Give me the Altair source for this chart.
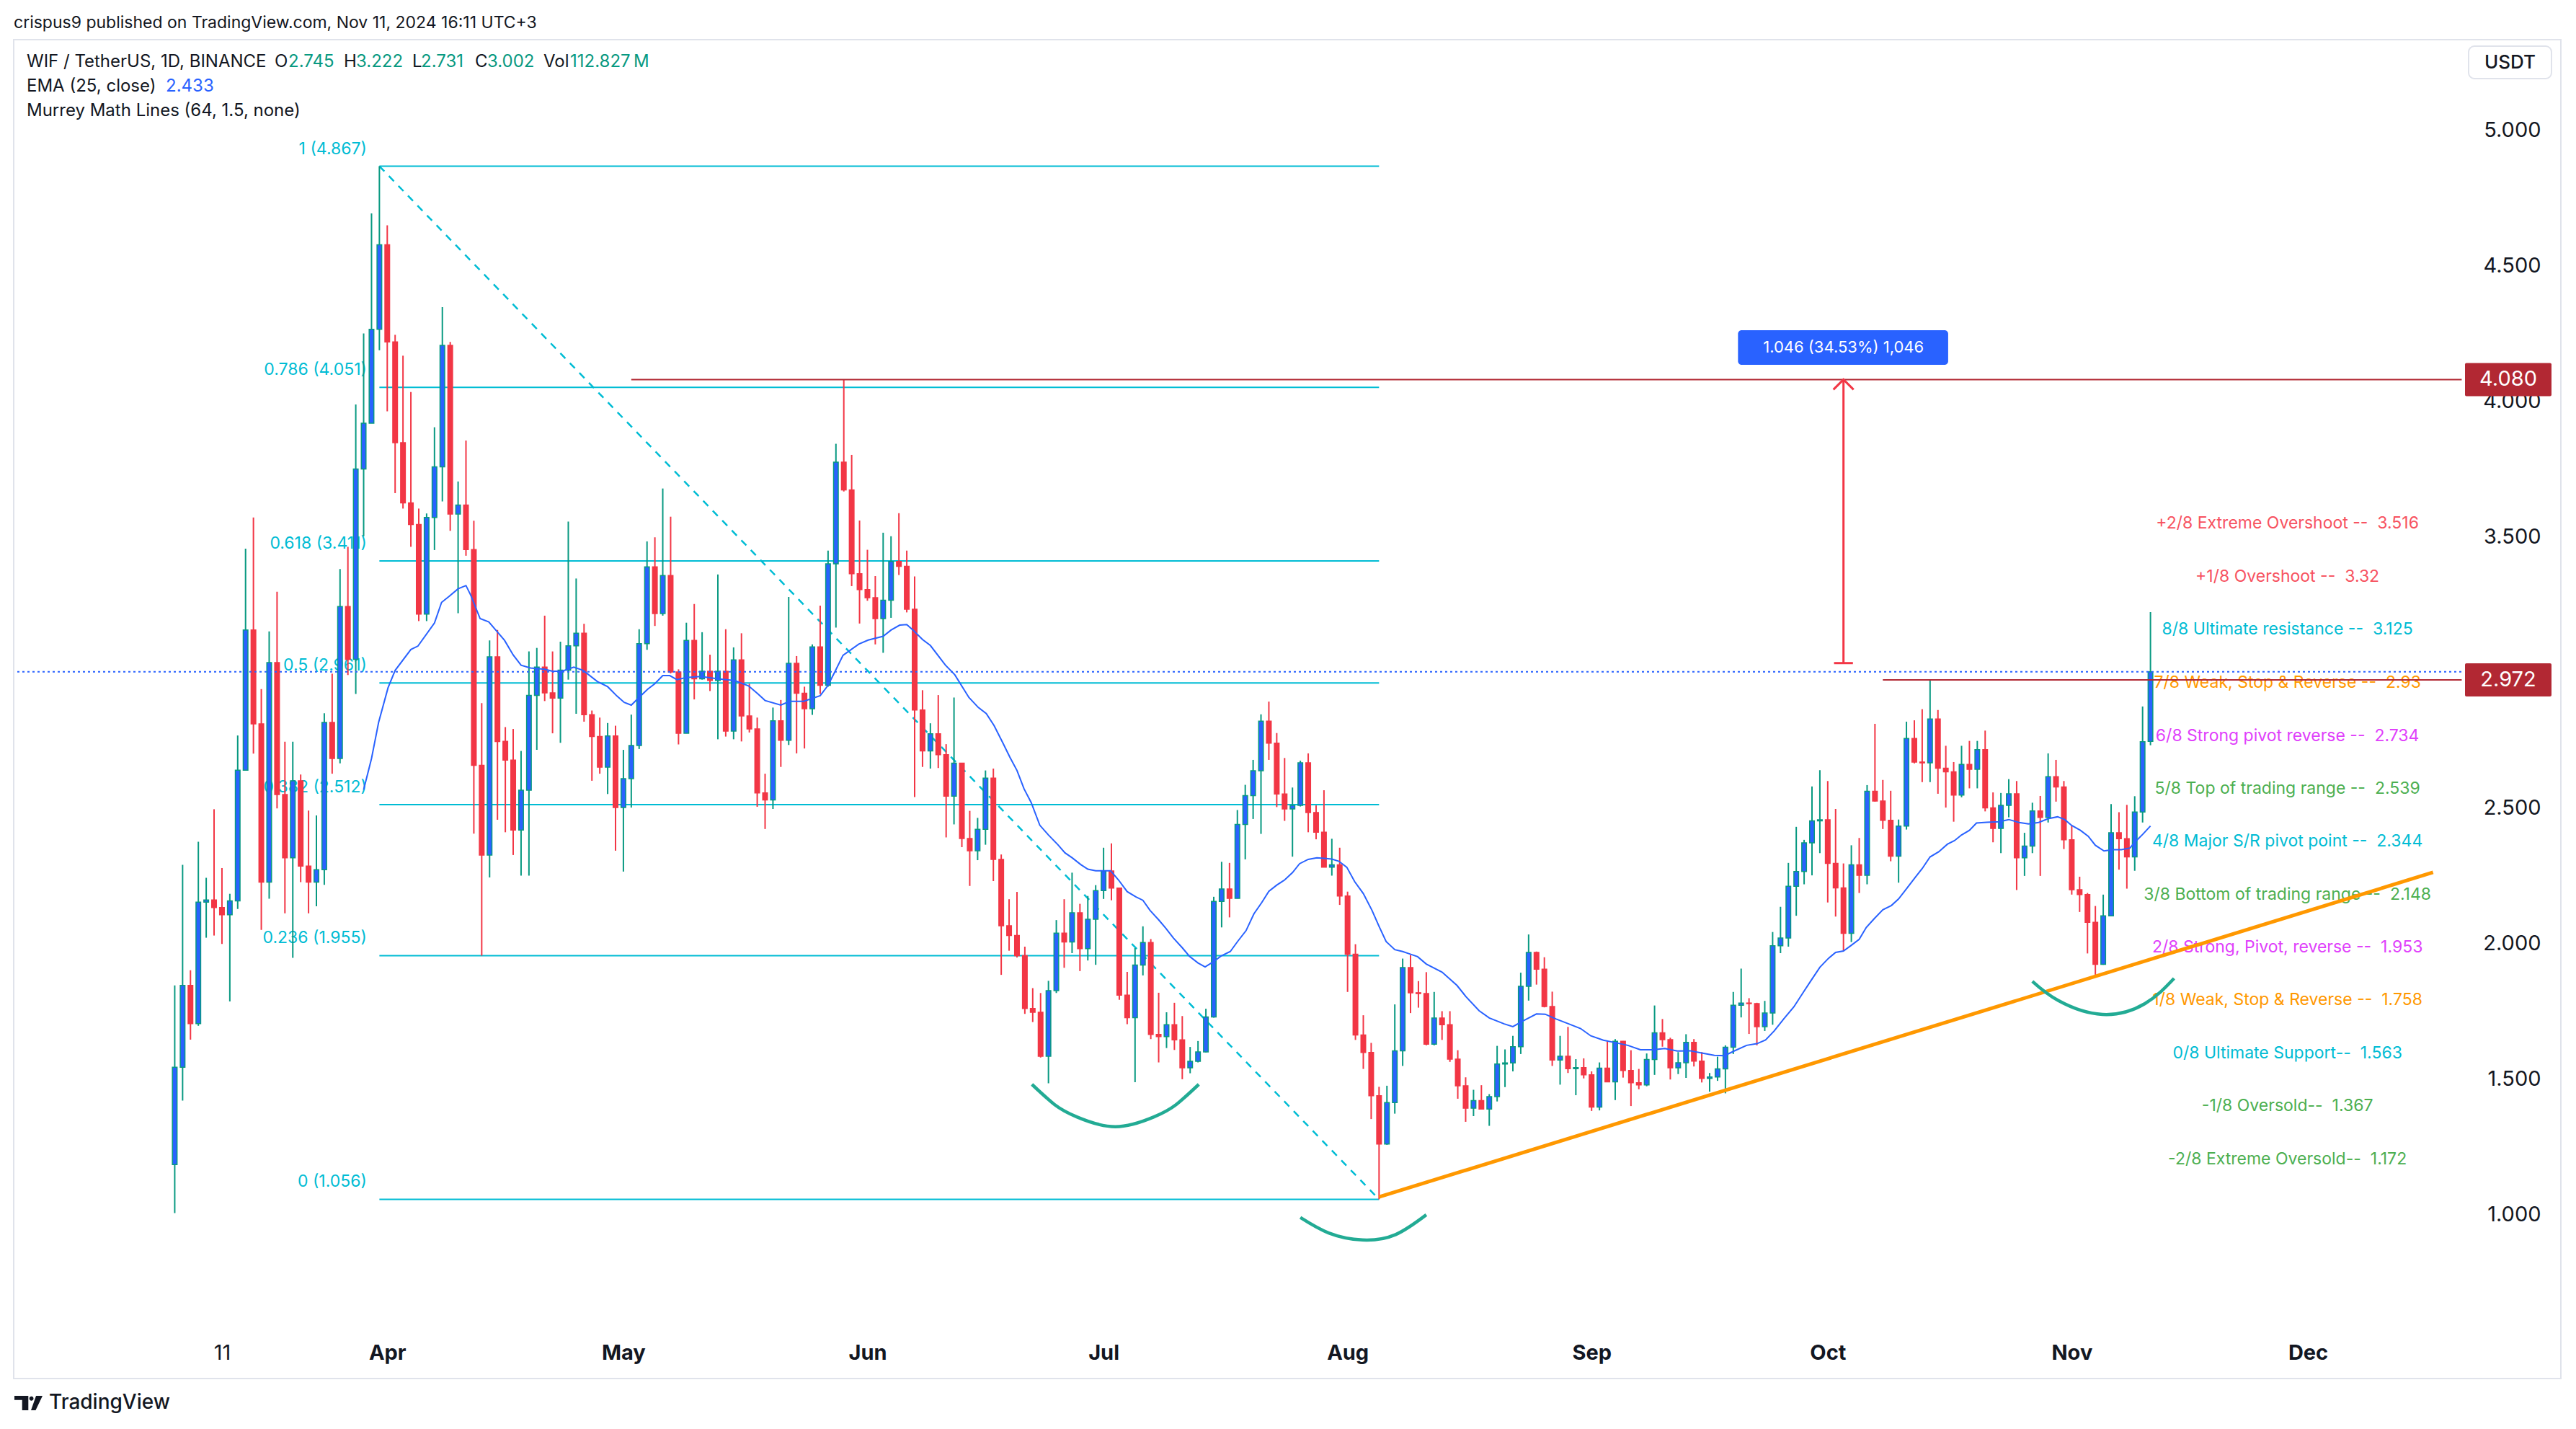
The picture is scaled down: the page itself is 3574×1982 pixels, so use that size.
import altair as alt
import pandas as pd

# ---------------- data (day 0 = 2024-03-05, daily bars) ----------------
opens = [1.184,1.543,1.845,1.704,2.152,2.160,2.132,2.106,2.157,2.639,
3.156,2.810,2.226,3.036,2.549,2.316,2.600,2.285,2.226,2.272,
2.815,2.682,3.243,3.048,3.750,3.919,4.265,4.577,4.219,3.847,
3.625,3.545,3.215,3.571,3.758,4.206,3.584,3.617,3.453,2.657,
2.326,3.057,2.745,2.676,2.418,2.565,2.915,3.019,2.924,2.905,
3.008,3.098,3.144,2.844,2.763,2.650,2.765,2.501,2.608,2.730,
3.106,3.389,3.217,3.357,3.001,2.775,3.118,2.976,3.004,2.970,
3.004,2.783,3.046,2.839,2.791,2.555,2.529,2.821,2.749,3.033,
2.923,2.866,3.094,2.952,3.400,3.775,3.673,3.364,3.305,3.275,
3.198,3.266,3.409,3.391,3.233,2.861,2.710,2.773,2.696,2.543,
2.665,2.387,2.342,2.421,2.610,2.310,2.065,2.029,1.955,1.760,
1.746,1.584,1.826,2.038,2.005,2.113,1.981,2.089,2.195,2.267,
2.204,1.809,1.726,1.920,2.003,1.664,1.656,1.700,1.644,1.541,
1.565,1.600,1.729,2.155,2.201,2.166,2.439,2.545,2.637,2.820,
2.739,2.551,2.496,2.509,2.666,2.483,2.410,2.281,2.290,2.175,
1.960,1.662,1.598,1.438,1.260,1.413,1.604,1.911,1.818,1.815,
1.628,1.725,1.700,1.573,1.475,1.392,1.420,1.389,1.435,1.555,
1.559,1.619,1.842,1.967,1.905,1.767,1.570,1.584,1.538,1.542,
1.515,1.396,1.540,1.489,1.639,1.531,1.486,1.478,1.572,1.670,
1.645,1.541,1.560,1.635,1.566,1.502,1.507,1.537,1.617,1.772,
1.780,1.778,1.693,1.743,1.991,2.020,2.211,2.265,2.371,2.452,
2.456,2.295,2.205,2.037,2.290,2.251,2.561,2.525,2.454,2.322,
2.433,2.756,2.669,2.666,2.828,2.646,2.633,2.547,2.660,2.642,
2.715,2.500,2.424,2.509,2.552,2.316,2.359,2.489,2.465,2.615,
2.577,2.382,2.198,2.180,2.078,1.923,2.102,2.408,2.386,2.319,
2.485,2.745]

highs = [1.845,2.290,1.901,2.375,2.242,2.495,2.278,2.183,2.767,3.456,
3.571,2.938,3.151,3.297,2.744,2.744,2.623,2.490,2.472,2.849,
2.995,3.381,3.463,3.988,4.250,4.693,4.867,4.649,4.245,4.168,
4.034,3.604,3.586,3.904,4.347,4.219,3.704,3.855,3.559,2.886,
3.118,3.156,2.798,2.791,2.710,3.077,3.090,3.209,3.077,3.113,
3.556,3.346,3.179,2.859,2.833,2.813,2.803,2.714,2.844,3.159,
3.483,3.498,3.678,3.574,3.011,3.183,3.252,3.148,3.065,3.361,
3.159,3.092,3.144,2.958,2.833,2.626,2.870,2.898,3.278,3.060,
2.947,3.103,3.246,3.449,3.843,4.080,3.802,3.560,3.452,3.355,
3.515,3.502,3.587,3.449,3.354,2.934,2.812,2.916,2.735,2.907,
2.665,2.489,2.463,2.638,2.645,2.328,2.163,2.190,1.988,1.835,
1.817,1.862,2.086,2.163,2.261,2.146,2.175,2.215,2.353,2.369,
2.204,1.895,1.983,2.063,2.016,1.818,1.746,1.781,1.732,1.618,
1.640,1.759,2.172,2.301,2.297,2.492,2.585,2.677,2.845,2.892,
2.776,2.684,2.575,2.674,2.701,2.509,2.565,2.386,2.353,2.191,
1.997,1.735,1.633,1.471,1.475,1.775,1.944,1.957,1.861,1.894,
1.821,1.750,1.750,1.606,1.506,1.460,1.477,1.444,1.622,1.609,
1.659,1.892,2.033,1.970,1.949,1.822,1.659,1.692,1.573,1.576,
1.528,1.561,1.639,1.647,1.640,1.606,1.537,1.594,1.771,1.721,
1.652,1.599,1.665,1.647,1.599,1.522,1.582,1.624,1.821,1.907,
1.798,1.781,1.788,2.042,2.135,2.297,2.430,2.382,2.579,2.639,
2.599,2.496,2.295,2.362,2.389,2.584,2.810,2.603,2.563,2.457,
2.818,2.823,2.864,2.972,2.861,2.729,2.669,2.729,2.747,2.747,
2.785,2.557,2.555,2.606,2.599,2.408,2.519,2.544,2.701,2.677,
2.599,2.435,2.246,2.186,2.138,2.180,2.514,2.484,2.511,2.543,
2.874,3.222]

lows = [1.005,1.420,1.645,1.696,2.021,2.029,1.998,1.786,2.127,2.639,
2.700,2.050,2.165,2.498,2.111,1.947,2.226,2.111,2.137,2.216,
2.626,2.664,2.990,2.920,3.502,3.919,4.188,3.963,3.661,3.604,
3.463,3.189,3.189,3.451,3.630,3.522,3.218,3.430,2.405,1.955,
2.243,2.456,2.410,2.326,2.250,2.250,2.714,2.894,2.775,2.740,
2.973,2.847,2.818,2.600,2.626,2.551,2.342,2.265,2.501,2.717,
3.083,3.171,3.209,2.996,2.734,2.775,2.900,2.973,2.931,2.753,
2.763,2.753,2.745,2.778,2.504,2.422,2.496,2.651,2.732,2.701,
2.719,2.843,2.920,2.947,3.165,3.667,3.318,3.180,3.264,3.103,
3.072,3.201,3.359,3.221,2.540,2.651,2.645,2.647,2.391,2.439,
2.355,2.212,2.307,2.364,2.230,1.884,1.973,1.948,1.740,1.710,
1.579,1.484,1.817,1.910,1.964,1.898,1.937,1.921,2.164,2.159,
1.792,1.702,1.488,1.882,1.647,1.561,1.614,1.607,1.499,1.521,
1.561,1.598,1.726,2.059,2.096,2.166,2.310,2.459,2.404,2.677,
2.503,2.452,2.320,2.505,2.410,2.384,2.281,2.250,2.142,1.821,
1.644,1.537,1.352,1.056,1.257,1.372,1.548,1.743,1.763,1.624,
1.624,1.644,1.563,1.427,1.342,1.363,1.388,1.327,1.417,1.470,
1.528,1.592,1.789,1.848,1.764,1.548,1.479,1.522,1.440,1.502,
1.382,1.384,1.489,1.422,1.505,1.400,1.462,1.473,1.515,1.619,
1.498,1.518,1.504,1.546,1.487,1.453,1.493,1.447,1.592,1.727,
1.666,1.624,1.677,1.700,1.964,1.988,2.102,2.218,2.251,2.333,
2.151,2.099,1.972,2.005,2.186,2.218,2.523,2.422,2.303,2.224,
2.420,2.664,2.595,2.595,2.552,2.501,2.449,2.539,2.572,2.572,
2.487,2.373,2.333,2.465,2.197,2.249,2.333,2.249,2.446,2.523,
2.348,2.180,2.116,1.963,1.880,1.921,2.102,2.272,2.202,2.268,
2.446,2.731]

closes = [1.543,1.845,1.704,2.152,2.160,2.132,2.106,2.157,2.639,3.156,
2.810,2.226,3.036,2.549,2.316,2.600,2.285,2.226,2.272,2.815,
2.682,3.243,3.048,3.750,3.919,4.265,4.577,4.219,3.847,3.625,
3.545,3.215,3.571,3.758,4.206,3.584,3.617,3.453,2.657,2.326,
3.057,2.745,2.676,2.418,2.565,2.915,3.019,2.924,2.905,3.008,
3.098,3.144,2.844,2.763,2.650,2.765,2.501,2.608,2.730,3.106,
3.389,3.217,3.357,3.001,2.775,3.118,2.976,3.004,2.970,3.004,
2.783,3.046,2.839,2.791,2.555,2.529,2.821,2.749,3.033,2.923,
2.866,3.094,2.952,3.400,3.775,3.673,3.364,3.305,3.275,3.198,
3.266,3.409,3.391,3.233,2.861,2.710,2.773,2.696,2.543,2.665,
2.387,2.342,2.421,2.610,2.310,2.065,2.029,1.955,1.760,1.746,
1.584,1.826,2.038,2.005,2.113,1.981,2.089,2.195,2.267,2.204,
1.809,1.726,1.920,2.003,1.664,1.656,1.700,1.644,1.541,1.565,
1.600,1.729,2.155,2.201,2.166,2.439,2.545,2.637,2.820,2.739,
2.551,2.496,2.509,2.666,2.483,2.410,2.281,2.290,2.175,1.960,
1.662,1.598,1.438,1.260,1.413,1.604,1.911,1.818,1.815,1.628,
1.725,1.700,1.573,1.475,1.392,1.420,1.389,1.435,1.555,1.559,
1.619,1.842,1.967,1.905,1.767,1.570,1.584,1.538,1.542,1.515,
1.396,1.540,1.489,1.639,1.531,1.486,1.478,1.572,1.670,1.645,
1.541,1.560,1.635,1.566,1.502,1.507,1.537,1.617,1.772,1.780,
1.778,1.693,1.743,1.991,2.020,2.211,2.265,2.371,2.452,2.456,
2.295,2.205,2.037,2.290,2.251,2.561,2.525,2.454,2.322,2.433,
2.756,2.669,2.666,2.828,2.646,2.633,2.547,2.660,2.642,2.715,
2.500,2.424,2.509,2.552,2.316,2.359,2.489,2.465,2.615,2.577,
2.382,2.198,2.180,2.078,1.923,2.102,2.408,2.386,2.319,2.485,
2.744,3.002]

# EMA (25, close)
ema_days = [24.0,25.0,25.9,27.1,28.0,30.0,30.9,33.0,33.9,34.9,36.0,37.0,37.6,38.8,39.9,41.9,43.0,44.0,45.2,47.0,
48.0,49.2,50.7,51.9,53.7,55.0,56.2,57.1,58.0,58.9,60.1,61.0,62.0,62.9,63.8,65.0,66.8,69.0,71.1,72.9,
74.1,75.0,77.0,78.1,79.9,82.0,83.0,83.9,84.9,86.9,88.1,90.0,91.0,92.1,93.0,93.9,95.0,96.0,97.9,99.1,
100.9,102.1,103.1,104.1,105.2,106.1,107.0,107.9,108.8,109.9,111.0,112.2,113.1,114.0,115.1,116.0,117.0,118.9,119.9,121.0,
122.1,123.0,123.9,125.0,125.9,126.9,128.0,128.9,130.0,130.9,132.0,132.9,134.1,135.0,136.1,137.1,138.1,139.0,140.0,141.0,
142.0,142.9,144.0,145.1,146.0,147.0,147.9,148.9,149.9,151.0,152.1,153.0,153.9,155.0,156.0,156.9,157.9,159.0,161.0,162.9,
164.0,165.7,167.0,168.9,170.0,171.4,173.0,174.1,175.5,177.1,178.6,179.9,181.5,183.0,184.6,186.2,187.8,189.3,190.9,192.5,
194.0,195.6,196.9,198.1,199.7,201.0,202.1,203.2,204.4,205.7,206.9,207.9,209.0,210.1,211.0,212.0,212.9,214.0,214.9,215.9,
217.0,218.1,219.0,220.1,221.1,222.0,223.0,224.1,225.2,226.1,227.0,228.0,228.9,230.2,231.8,233.0,234.3,235.5,236.8,238.0,
239.2,240.1,241.0,242.1,243.1,244.0,245.1,246.2,247.3,248.4,249.0,250.0,251.0]
ema_vals = [2.567,2.682,2.815,2.943,3.007,3.084,3.097,3.182,3.258,3.281,3.308,3.320,3.285,3.198,3.186,3.118,3.064,3.026,3.016,3.011,
3.004,3.004,3.019,3.007,2.966,2.947,2.912,2.889,2.879,2.905,2.938,2.958,2.988,2.988,2.973,2.981,2.985,2.976,2.970,2.950,
2.920,2.896,2.879,2.893,2.893,2.914,2.952,3.004,3.063,3.104,3.119,3.133,3.156,3.174,3.176,3.153,3.121,3.099,3.027,2.991,
2.907,2.870,2.848,2.803,2.740,2.687,2.638,2.570,2.520,2.436,2.400,2.364,2.334,2.316,2.291,2.274,2.268,2.268,2.234,2.191,
2.172,2.159,2.122,2.087,2.056,2.019,1.984,1.953,1.928,1.913,1.933,1.953,1.970,2.006,2.047,2.109,2.151,2.192,2.215,2.234,
2.261,2.294,2.310,2.316,2.314,2.311,2.303,2.281,2.228,2.184,2.122,2.063,2.007,1.977,1.970,1.961,1.951,1.924,1.894,1.845,
1.805,1.752,1.725,1.703,1.693,1.716,1.740,1.739,1.721,1.703,1.686,1.659,1.643,1.634,1.624,1.608,1.608,1.612,1.603,1.604,
1.596,1.587,1.586,1.603,1.624,1.630,1.644,1.677,1.721,1.766,1.820,1.864,1.912,1.945,1.967,1.972,1.991,2.015,2.059,2.091,
2.124,2.140,2.164,2.205,2.243,2.276,2.319,2.338,2.366,2.379,2.400,2.417,2.444,2.447,2.449,2.457,2.446,2.441,2.446,2.460,
2.467,2.457,2.435,2.417,2.395,2.362,2.341,2.346,2.346,2.352,2.373,2.402,2.433]

# Fibonacci retracement (Mar 31 high -> Aug 5 low)
fib_ratios = ["1", "0.786", "0.618", "0.5", "0.382", "0.236", "0"]
fib_prices = [4.867, 4.051, 3.411, 2.961, 2.512, 1.955, 1.056]
fib_start_day, fib_end_day = 26.0, 153.0

# Murrey Math lines (labels only)
murrey_names = ["+2/8 Extreme Overshoot --", "+1/8 Overshoot --", "8/8 Ultimate resistance --",
                "7/8 Weak, Stop & Reverse --", "6/8 Strong pivot reverse --", "5/8 Top of trading range --",
                "4/8 Major S/R pivot point --", "3/8 Bottom of trading range --", "2/8 Strong, Pivot, reverse --",
                "1/8 Weak, Stop & Reverse --", "0/8 Ultimate Support--", "-1/8 Oversold--", "-2/8 Extreme Oversold--"]
murrey_values = ["3.516", "3.32", "3.125", "2.93", "2.734", "2.539", "2.344", "2.148", "1.953", "1.758", "1.563", "1.367", "1.172"]
murrey_colors = ["#f7525f", "#f7525f", "#00bcd4", "#ff9800", "#e040fb", "#4caf50", "#00bcd4",
                 "#4caf50", "#e040fb", "#ff9800", "#00bcd4", "#4caf50", "#4caf50"]
murrey_day = 268.4

# user drawings
ray_start_days = [58.0, 217.0]
ray_prices = [4.080, 2.972]
last_price = 3.002
trend_days = [153.0, 286.9]
trend_prices = [1.065, 2.262]
arc_ids = [1]*7 + [2]*5 + [3]*5
arc_days = [108.9, 111.8, 114.6, 119.5, 124.4, 127.2, 130.1,
            143.0, 146.6, 150.9, 155.1, 159.0,
            236.0, 239.3, 244.9, 250.3, 254.0]
arc_prices = [1.480, 1.405, 1.360, 1.324, 1.360, 1.405, 1.480,
              0.989, 0.932, 0.906, 0.926, 0.999,
              1.860, 1.789, 1.738, 1.778, 1.871]
measure_day = 212.0
measure_from, measure_to = 3.034, 4.080
measure_label = "1.046 (34.53%) 1,046"
measure_box_days = [198.6, 225.3]
measure_box_prices = [4.134, 4.262]

# axes (3.000 is hidden under the 2.972 price box in the reference)
tick_days = [6, 27, 57, 88, 118, 149, 180, 210, 241, 271]
tick_labels = ["11", "Apr", "May", "Jun", "Jul", "Aug", "Sep", "Oct", "Nov", "Dec"]
price_ticks = [1.0, 1.5, 2.0, 2.5, 3.5, 4.0, 4.5, 5.0]
axis_end_day = 290.54

# ---------------- chart ----------------
W, H = 3534, 1857
FONT = "Inter"
INK = "#131722"
UP, DOWN, UPBODY = "#089981", "#f23645", "#2962ff"

xs = alt.Scale(domain=[-20.0, 302.68], nice=False, zero=False)
ys = alt.Scale(domain=[0.3949, 5.3338], nice=False, zero=False)

label_expr = "[" + ",".join("'%s'" % t for t in tick_labels) + "][indexof([" + ",".join(str(d) for d in tick_days) + "], datum.value)]"
xaxis = alt.Axis(values=tick_days, labelExpr=label_expr, orient="bottom", offset=-36, ticks=False, tickSize=0,
                 domain=False, grid=False, labelPadding=0, labelBaseline="middle", labelFontSize=29,
                 labelFont=FONT, labelColor=INK, title=None, labelFlush=False, labelOverlap=False,
                 labelFontWeight={"condition": {"test": "datum.value === 6", "value": "normal"}, "value": "bold"})
yaxis = alt.Axis(values=price_ticks, format=".3f", orient="right", offset=-28, ticks=False, tickSize=0,
                 domain=False, grid=False, labelPadding=0, labelAlign="right", labelBaseline="middle",
                 labelFontSize=29, labelFont=FONT, labelColor=INK, title=None, labelFlush=False, labelOverlap=False)

def X(f, **kw):
    return alt.X(f, type="quantitative", scale=xs, axis=xaxis, **kw)

def Y(f, **kw):
    return alt.Y(f, type="quantitative", scale=ys, axis=yaxis, **kw)

candles = pd.DataFrame({"day": list(range(len(opens))), "open": opens, "high": highs, "low": lows, "close": closes})
up = candles[candles["close"] >= candles["open"]]
dn = candles[candles["close"] < candles["open"]]

layers = []

# fib lines and labels (behind candles)
fib_df = pd.DataFrame({"p": fib_prices, "x1": fib_start_day, "x2": fib_end_day,
                       "lab": [f"{r} ({p:.3f})" for r, p in zip(fib_ratios, fib_prices)], "lx": 24.4})
layers.append(alt.Chart(fib_df).mark_rule(color="#00bcd4", strokeWidth=2).encode(x=X("x1"), x2="x2", y=Y("p")))
layers.append(alt.Chart(fib_df).mark_text(color="#00bcd4", align="right", baseline="middle", dy=-24,
                                          fontSize=23, font=FONT).encode(x=X("lx"), y=Y("p"), text="lab:N"))
diag_df = pd.DataFrame({"d": [fib_start_day, fib_end_day], "p": [fib_prices[0], fib_prices[-1]]})
layers.append(alt.Chart(diag_df).mark_line(color="#00bcd4", strokeWidth=2.5, strokeDash=[10, 9]).encode(x=X("d"), y=Y("p")))

# Murrey labels
for name, val, col in zip(murrey_names, murrey_values, murrey_colors):
    mdf = pd.DataFrame({"d": [murrey_day], "p": [float(val)], "t": [name + "\u00a0 " + val]})
    layers.append(alt.Chart(mdf).mark_text(color=col, align="center", baseline="middle", dy=-12,
                                           fontSize=23, font=FONT).encode(x=X("d"), y=Y("p"), text="t:N"))

# candles
layers.append(alt.Chart(up).mark_rule(color=UP, strokeWidth=2).encode(x=X("day"), y=Y("low"), y2="high:Q"))
layers.append(alt.Chart(dn).mark_rule(color=DOWN, strokeWidth=2).encode(x=X("day"), y=Y("low"), y2="high:Q"))
layers.append(alt.Chart(up).mark_bar(size=6.5, fill=UPBODY, stroke=UP, strokeWidth=1.5).encode(
    x=X("day"), y=Y("open"), y2="close:Q"))
layers.append(alt.Chart(dn).mark_bar(size=6.5, fill=DOWN, stroke=DOWN, strokeWidth=1.5).encode(
    x=X("day"), y=Y("open"), y2="close:Q"))

# EMA
ema_df = pd.DataFrame({"d": ema_days, "v": ema_vals})
layers.append(alt.Chart(ema_df).mark_line(color="#2962ff", strokeWidth=2).encode(x=X("d"), y=Y("v")))

# last price dotted line
lp_df = pd.DataFrame({"x1": [-20.0], "x2": [axis_end_day], "p": [last_price]})
layers.append(alt.Chart(lp_df).mark_rule(color="#2962ff", strokeWidth=2, strokeDash=[3, 4]).encode(
    x=X("x1"), x2="x2", y=Y("p")))

# horizontal rays
ray_df = pd.DataFrame({"x1": ray_start_days, "x2": axis_end_day, "p": ray_prices})
layers.append(alt.Chart(ray_df).mark_rule(color="#b22833", strokeWidth=2).encode(x=X("x1"), x2="x2", y=Y("p")))

# orange trend line
tr_df = pd.DataFrame({"d": trend_days, "p": trend_prices})
layers.append(alt.Chart(tr_df).mark_line(color="#ff9800", strokeWidth=5).encode(x=X("d"), y=Y("p")))

# arcs
arc_df = pd.DataFrame({"arc": arc_ids, "d": arc_days, "p": arc_prices})
layers.append(alt.Chart(arc_df).mark_line(color="#22ab94", strokeWidth=4.5, interpolate="natural").encode(
    x=X("d"), y=Y("p"), detail="arc:N"))

# price-range measurement arrow
ar_df = pd.DataFrame({"d": [measure_day], "p1": [measure_from], "p2": [measure_to],
                      "c1": [measure_day - 1.2], "c2": [measure_day + 1.2]})
layers.append(alt.Chart(ar_df).mark_rule(color=DOWN, strokeWidth=3).encode(x=X("d"), y=Y("p1"), y2="p2:Q"))
layers.append(alt.Chart(ar_df).mark_rule(color=DOWN, strokeWidth=3).encode(x=X("c1"), x2="c2:Q", y=Y("p1")))
layers.append(alt.Chart(ar_df).mark_point(shape="M-1,1L0,0L1,1", filled=False, color=DOWN, strokeWidth=3,
                                          size=784, opacity=1).encode(x=X("d"), y=Y("p2")))
mb_df = pd.DataFrame({"x1": [measure_box_days[0]], "x2": [measure_box_days[1]],
                      "y1": [measure_box_prices[0]], "y2": [measure_box_prices[1]],
                      "d": [measure_day], "p": [sum(measure_box_prices) / 2], "t": [measure_label]})
layers.append(alt.Chart(mb_df).mark_rect(color="#2962ff", cornerRadius=5).encode(
    x=X("x1"), x2="x2:Q", y=Y("y1"), y2="y2:Q"))
layers.append(alt.Chart(mb_df).mark_text(color="white", fontSize=22, font=FONT, baseline="middle").encode(
    x=X("d"), y=Y("p"), text="t:N"))

# price boxes on the axis
pb_df = pd.DataFrame({"p": ray_prices, "top": [p + 0.0612 for p in ray_prices],
                      "bot": [p - 0.0612 for p in ray_prices], "t": [f"{p:.3f}" for p in ray_prices]})
layers.append(alt.Chart(pb_df).mark_rect(color="#b22833", cornerRadius=2).encode(
    x=alt.value(3401), x2=alt.value(3521), y=Y("top"), y2="bot:Q"))
layers.append(alt.Chart(pb_df).mark_text(color="white", fontSize=29, font=FONT, baseline="middle").encode(
    x=alt.value(3461), y=Y("p"), text="t:N"))

# header / legend / decorations (pixel positions, not data)
dummy = pd.DataFrame({"a": [0]})

def ptext(t, x, y, size, color=INK, weight="normal", align="left"):
    return alt.Chart(dummy).mark_text(text=t, align=align, baseline="middle", fontSize=size, font=FONT,
                                      fontWeight=weight, color=color).encode(x=alt.value(x), y=alt.value(y))

GREEN = "#089981"
layers += [
    ptext("crispus9 published on TradingView.com, Nov 11, 2024 16:11 UTC+3", 0, -23, 23),
    ptext("WIF / TetherUS, 1D, BINANCE", 18, 31, 24),
    ptext("O", 362, 31, 24), ptext("2.745", 381, 31, 24, GREEN),
    ptext("H", 458, 31, 24), ptext("3.222", 475, 31, 24, GREEN),
    ptext("L", 553, 31, 24), ptext("2.731", 565, 31, 24, GREEN),
    ptext("C", 640, 31, 24), ptext("3.002", 657, 31, 24, GREEN),
    ptext("Vol", 735, 31, 24), ptext("112.827\u202fM", 772, 31, 24, GREEN),
    ptext("EMA (25, close)", 18, 65, 24), ptext("2.433", 211, 65, 24, "#2962ff"),
    ptext("Murrey Math Lines (64, 1.5, none)", 18, 99, 24),
]
layers.append(alt.Chart(dummy).mark_rect(fill="white", stroke="#e0e3eb", strokeWidth=2, cornerRadius=8).encode(
    x=alt.value(3406), x2=alt.value(3521), y=alt.value(9), y2=alt.value(54)))
layers.append(ptext("USDT", 3463.5, 31.5, 26, weight=500, align="center"))

# TradingView logo
logo_path = ("M-1,-0.51L-0.01,-0.51L-0.01,0.51L-0.45,0.51L-0.45,-0.22L-1,-0.22Z"
             "M0.06,-0.32A0.15,0.15 0 1,0 0.36,-0.32A0.15,0.15 0 1,0 0.06,-0.32Z"
             "M0.54,-0.51L1,-0.51L0.51,0.51L0.18,0.51Z")
layers.append(alt.Chart(dummy).mark_point(shape=logo_path, filled=True, color=INK, size=1521, opacity=1,
                                          strokeWidth=0).encode(x=alt.value(20.5), y=alt.value(1891)))
layers.append(ptext("TradingView", 49, 1891, 28, weight=500))

chart = alt.layer(*layers).properties(
    width=W, height=H,
    padding={"left": 11, "top": 47, "right": 10, "bottom": 60},
    autosize=alt.AutoSizeParams(type="none"),
    background="white",
).configure_view(stroke="#e0e3eb", strokeWidth=2)

chart.save("out.html", embed_options={"renderer": "svg", "actions": False})
